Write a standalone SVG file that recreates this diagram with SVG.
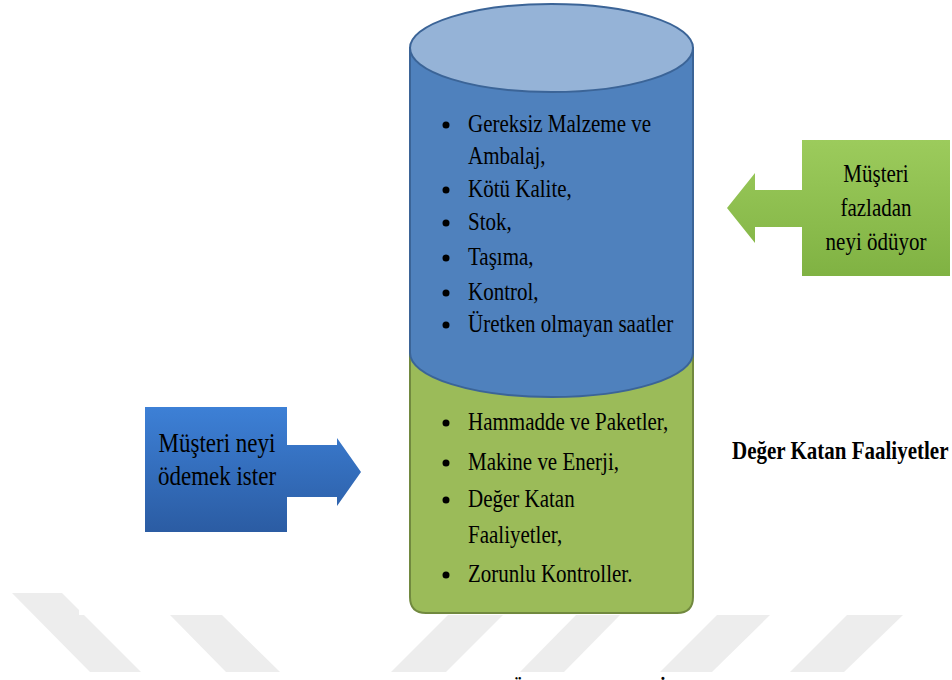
<svg xmlns="http://www.w3.org/2000/svg" width="952" height="680" viewBox="0 0 952 680">
  <defs>
    <style>
      text { font-family: 'Liberation Serif', 'DejaVu Serif', serif; fill: #000; }
      .t { font-size: 21px; }
      .tl { font-size: 23px; }
      .tb { font-size: 21px; font-weight: bold; }
      .cap { font-size: 20px; font-weight: bold; }
      .stripe { fill: #ededed; }
      .bul { fill: #000; }
    </style>
    <linearGradient id="gBlue" gradientUnits="userSpaceOnUse" x1="0" y1="407" x2="0" y2="532">
      <stop offset="0" stop-color="#3d80d6"/>
      <stop offset="1" stop-color="#2b5ca3"/>
    </linearGradient>
    <linearGradient id="gGreen" gradientUnits="userSpaceOnUse" x1="0" y1="140" x2="0" y2="276">
      <stop offset="0" stop-color="#9ccb5c"/>
      <stop offset="1" stop-color="#80b243"/>
    </linearGradient>
  </defs>

  <rect width="952" height="680" fill="#fff"/>

  <!-- faint diagonal band pattern along the bottom -->
  <g id="watermark">
    <polygon class="stripe" points="12,593 62,593 79,610 79,615 84,615 141,672 90,672"/>
    <polygon class="stripe" points="170,615 222,615 280,672 226,672"/>
    <polygon class="stripe" points="448,615 503,615 446,672 391,672"/>
    <polygon class="stripe" points="576,615 620,615 564,672 520,672"/>
    <polygon class="stripe" points="717,615 770,615 712,672 660,672"/>
    <polygon class="stripe" points="847,615 903,615 844,672 790,672"/>
  </g>

  <g font-family="Liberation Serif, DejaVu Serif, serif">
  <!-- cylinder: green base, blue body, light top -->
  <g id="cylinder">
    <path d="M410,330 L410,597 Q410,613 426,613 L677,613 Q693,613 693,597 L693,330 Z" fill="#9bbb59" stroke="#71893f" stroke-width="2"/>
    <path d="M410,48 L410,353 A141.5,44 0 0 0 693,353 L693,48 Z" fill="#4f81bd" stroke="#3b6497" stroke-width="2"/>
    <ellipse cx="551.5" cy="48" rx="141.5" ry="44" fill="#95b3d7" stroke="#3b6497" stroke-width="2"/>

    <g id="waste-list">
      <circle class="bul" cx="446" cy="125" r="3.5"/>
      <text class="t" transform="translate(468,132) scale(1,1.2)">Gereksiz Malzeme ve</text>
      <text class="t" transform="translate(468,164) scale(1,1.2)">Ambalaj,</text>
      <circle class="bul" cx="446" cy="190" r="3.5"/>
      <text class="t" transform="translate(468,197) scale(1,1.2)">Kötü Kalite,</text>
      <circle class="bul" cx="446" cy="223" r="3.5"/>
      <text class="t" transform="translate(468,230) scale(1,1.2)">Stok,</text>
      <circle class="bul" cx="446" cy="258" r="3.5"/>
      <text class="t" transform="translate(468,265) scale(1,1.2)">Taşıma,</text>
      <circle class="bul" cx="446" cy="293" r="3.5"/>
      <text class="t" transform="translate(468,300) scale(1,1.2)">Kontrol,</text>
      <circle class="bul" cx="446" cy="325" r="3.5"/>
      <text class="t" transform="translate(468,332) scale(1,1.2)">Üretken olmayan saatler</text>
    </g>

    <g id="value-list">
      <circle class="bul" cx="446" cy="423" r="3.5"/>
      <text class="t" transform="translate(468,430) scale(1,1.2)">Hammadde ve Paketler,</text>
      <circle class="bul" cx="446" cy="463" r="3.5"/>
      <text class="t" transform="translate(468,470) scale(1,1.2)">Makine ve Enerji,</text>
      <circle class="bul" cx="446" cy="500" r="3.5"/>
      <text class="t" transform="translate(468,507) scale(1,1.2)">Değer Katan</text>
      <text class="t" transform="translate(468,543) scale(1,1.2)">Faaliyetler,</text>
      <circle class="bul" cx="446" cy="575" r="3.5"/>
      <text class="t" transform="translate(468,582) scale(1,1.2)">Zorunlu Kontroller.</text>
    </g>
  </g>

  <!-- customer wants to pay for -->
  <g id="box-wants">
    <rect x="145" y="407" width="142" height="125" fill="url(#gBlue)"/>
    <text class="tl" text-anchor="middle" transform="translate(217,452) scale(1,1.2)">Müşteri neyi</text>
    <text class="tl" text-anchor="middle" transform="translate(217,485) scale(1,1.2)">ödemek ister</text>
  </g>

  <!-- customer overpays for -->
  <g id="box-overpays">
    <rect x="802" y="140" width="148" height="136" fill="url(#gGreen)"/>
    <text class="t" text-anchor="middle" transform="translate(876,182) scale(1,1.2)">Müşteri</text>
    <text class="t" text-anchor="middle" transform="translate(876,216) scale(1,1.2)">fazladan</text>
    <text class="t" text-anchor="middle" transform="translate(876,250) scale(1,1.2)">neyi ödüyor</text>
  </g>

  <g id="label-value">
    <text class="tb" transform="translate(732,459) scale(1,1.2)">Değer Katan Faaliyetler</text>
  </g>

  <!-- block arrows pointing at the cylinder -->
  <g id="connectors">
    <polygon points="286,445 337,445 337,438 361,472 337,506 337,497 286,497" fill="url(#gBlue)"/>
    <polygon points="803,190 755,190 755,173 727,208 755,243 755,227 803,227" fill="url(#gGreen)"/>
  </g>

  <!-- caption line, mostly below the frame -->
  <g id="caption">
    <text class="cap" text-anchor="middle" x="518" y="695">Ö</text>
    <text class="cap" text-anchor="middle" x="663" y="695">İ</text>
  </g>
  </g>
</svg>
